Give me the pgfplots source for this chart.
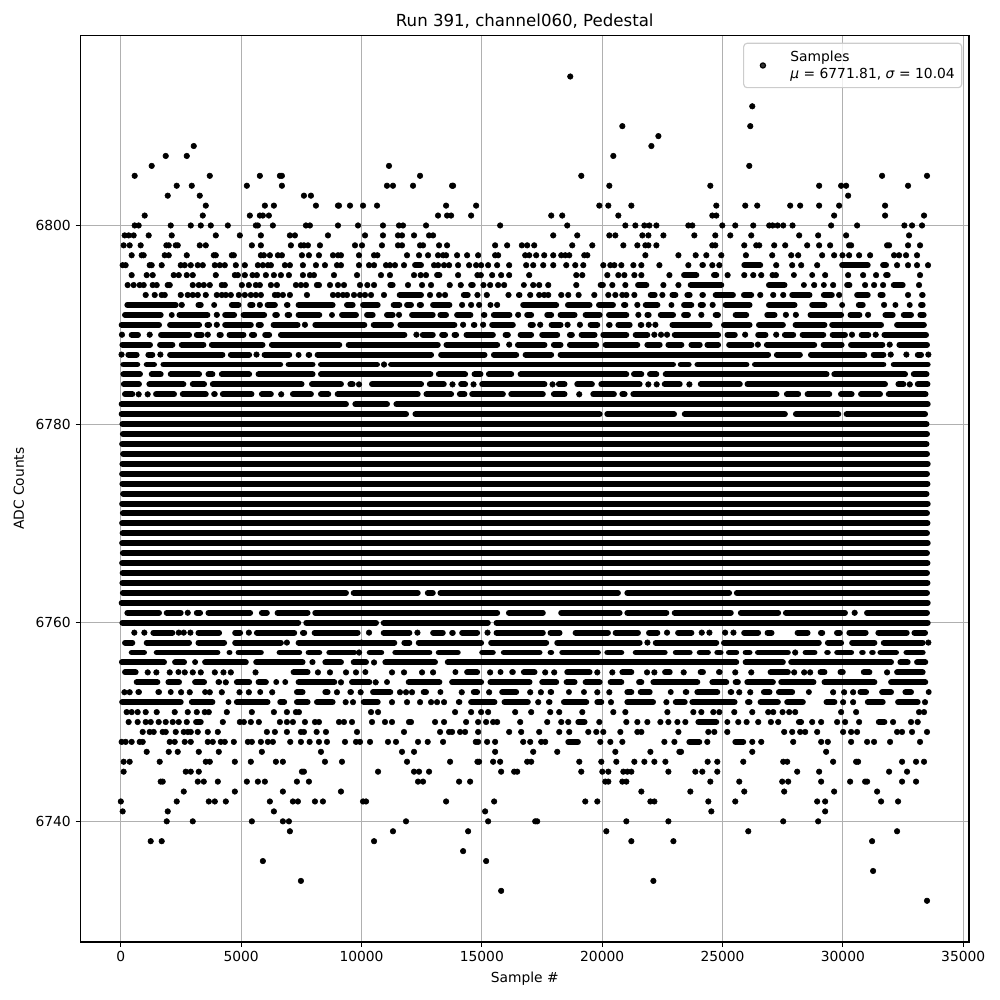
\documentclass[border=0pt]{standalone}
\usepackage{fontspec}
\setmainfont{DejaVu Sans}
\usepackage{pgfplots}
\usepackage{pgfplotstable}
\pgfplotsset{compat=1.18}

% runs of overlapping samples, one row per run: first sample, last sample, ADC value
\pgfplotstableread[row sep=\\]{
a b c\\
12099 12598 6796\\24036 24312 6796\\25778 26691 6796\\29844 31158 6796\\31545 31919 6796\\
13014 13361 6795\\23275 24036 6795\\24520 24865 6795\\27839 27977 6795\\28600 28807 6795\\31670 31988 6795\\
11072 11419 6794\\14429 14748 6794\\16620 16787 6794\\19810 20157 6794\\21364 21960 6794\\23552 25073 6794\\26802 27700 6794\\28254 28461 6794\\29083 29332 6794\\30052 30397 6794\\31988 32610 6794\\
11461 12598 6793\\14124 14540 6793\\16413 16690 6793\\21891 22307 6793\\22793 23167 6793\\23413 23759 6793\\24036 24312 6793\\24589 25557 6793\\25764 26317 6793\\27770 28738 6793\\29083 29664 6793\\30467 31158 6793\\31435 31780 6793\\33164 33440 6793\\
146 2407 6792\\3100 3447 6792\\3752 3974 6792\\4487 5014 6792\\5250 5597 6792\\5971 6526 6792\\6776 7053 6792\\7261 8925 6792\\9272 9758 6792\\9938 10798 6792\\11211 11697 6792\\11766 12182 6792\\12293 12598 6792\\12848 13777 6792\\15233 15483 6792\\16593 18215 6792\\18451 19602 6792\\19741 20573 6792\\20781 21087 6792\\21683 22418 6792\\22751 23000 6792\\23275 23828 6792\\23966 24312 6792\\25004 26248 6792\\26802 28116 6792\\28600 29360 6792\\29844 30052 6792\\30536 30951 6792\\32057 32265 6792\\32652 32887 6792\\33122 33440 6792\\
49 1783 6791\\1991 2198 6791\\2310 3724 6791\\4210 4834 6791\\4973 6082 6791\\6290 6609 6791\\6804 7122 6791\\7261 8371 6791\\8648 8856 6791\\9065 9896 6791\\10105 10590 6791\\10934 11419 6791\\11974 13084 6791\\13153 13638 6791\\13846 14651 6791\\14956 15233 6791\\15372 16274 6791\\16759 17175 6791\\17591 18007 6791\\18146 18978 6791\\19186 20018 6791\\20157 21128 6791\\21752 22057 6791\\22307 23070 6791\\23275 23690 6791\\24589 24935 6791\\25419 26110 6791\\26733 27286 6791\\28530 30052 6791\\30190 30812 6791\\31642 32195 6791\\32403 32956 6791\\33094 33482 6791\\
-90 1713 6790\\1921 3378 6790\\3475 3794 6790\\4210 5527 6790\\5597 5944 6790\\6221 7469 6790\\7955 10243 6790\\10382 11350 6790\\11488 13985 6790\\14540 14817 6790\\15303 16413 6790\\16898 17245 6790\\17772 18396 6790\\19394 19921 6790\\20157 20435 6790\\20546 21267 6790\\21475 21752 6790\\22793 24589 6790\\24935 26248 6790\\26387 27632 6790\\27908 29360 6790\\29429 31711 6790\\32126 33490 6790\\
326 839 6789\\1546 2961 6789\\3031 3488 6789\\3974 4279 6789\\4390 5222 6789\\5319 5666 6789\\5874 6290 6789\\6526 11907 6789\\12420 13086 6789\\13225 13599 6789\\13738 14057 6789\\14237 15583 6789\\15860 16207 6789\\16485 17174 6789\\17382 18256 6789\\18533 18866 6789\\19018 19809 6789\\19920 21127 6789\\21265 22000 6789\\22888 24941 6789\\25080 25634 6789\\26356 26910 6789\\27465 28062 6789\\28200 29310 6789\\29449 30212 6789\\30655 31182 6789\\31600 33580 6789\\
-60 1338 6788\\1505 2268 6788\\2406 3558 6788\\3655 6013 6788\\6151 9202 6788\\9341 13294 6788\\13405 15763 6788\\16373 17728 6788\\17867 18394 6788\\18533 19878 6788\\20017 21584 6788\\21751 22514 6788\\22625 23415 6788\\23582 24178 6788\\24247 24941 6788\\25149 26328 6788\\26716 28935 6788\\29074 30073 6788\\30212 31765 6788\\32222 33620 6788\\
187 783 6787\\1019 1435 6787\\1921 4348 6787\\4445 5458 6787\\5846 7122 6787\\7261 7469 6787\\7677 7954 6787\\8051 13017 6787\\13183 15236 6787\\15375 16554 6787\\16692 18006 6787\\18145 27021 6787\\27132 28339 6787\\28547 31016 6787\\31155 31807 6787\\32986 33374 6787\\
-20 811 6786\\950 1505 6786\\1644 6748 6786\\6845 8093 6786\\8190 10770 6786\\11103 23068 6786\\23138 23720 6786\\23831 26120 6786\\26220 31807 6786\\31987 33650 6786\\
-20 922 6785\\1158 1782 6785\\1949 3377 6785\\3516 3932 6785\\4070 5458 6785\\5596 8093 6785\\8190 12989 6785\\13086 14432 6785\\14570 15069 6785\\15167 16346 6785\\16485 21127 6785\\21196 21751 6785\\21862 22375 6785\\22514 29448 6785\\29518 32708 6785\\32819 33600 6785\\
0 880 6784\\1061 2725 6784\\2864 3585 6784\\3696 7635 6784\\7816 9272 6784\\9411 9757 6784\\10312 12601 6784\\12712 13544 6784\\14015 14432 6784\\14889 17728 6784\\18075 18561 6784\\18838 19698 6784\\19837 21681 6784\\22472 23346 6784\\23970 25842 6784\\25912 31876 6784\\32181 32639 6784\\32986 33640 6784\\
48 603 6783\\1338 2337 6783\\2448 3655 6783\\3752 4029 6783\\4112 5555 6783\\5735 6359 6783\\7025 8024 6783\\8190 8745 6783\\8884 12462 6783\\12573 13849 6783\\13960 14404 6783\\14473 16000 6783\\16096 17659 6783\\17867 18561 6783\\19503 20613 6783\\20710 21057 6783\\21168 27368 6783\\27548 28269 6783\\28408 29560 6783\\29795 30489 6783\\30628 31668 6783\\31779 33560 6783\\
-90 9480 6782\\9619 11186 6782\\11324 33650 6782\\
-90 11977 6781\\12115 20017 6781\\20086 23110 6781\\23304 27715 6781\\27923 29934 6781\\30031 33540 6781\\
-60 33600 6780\\-40 33620 6779\\-70 33600 6778\\-30 33620 6777\\-60 33650 6776\\-70 33620 6775\\-60 33640 6774\\-30 33600 6773\\-70 33650 6772\\-40 33620 6771\\-70 33640 6770\\-50 33620 6769\\-70 33650 6768\\-40 33620 6767\\-70 33640 6766\\-50 33620 6765\\-60 33640 6764\\
-40 9480 6763\\9550 12462 6763\\12628 13086 6763\\13155 20780 6763\\20919 25399 6763\\25468 33620 6763\\
-90 33650 6762\\
146 1713 6761\\1782 2614 6761\\3031 3419 6761\\3516 5499 6761\\5735 6193 6761\\6387 7885 6761\\7954 15763 6761\\15999 17659 6761\\18172 20849 6761\\20919 22791 6761\\22888 25468 6761\\25634 27437 6761\\27507 30212 6761\\30877 33620 6761\\
-60 7497 6760\\7580 10728 6760\\10797 15374 6760\\15485 33650 6760\\
1227 2268 6759\\3100 4209 6759\\4625 5083 6759\\5527 7330 6759\\7441 7746 6759\\7927 9965 6759\\10797 12115 6759\\12850 13502 6759\\13641 13918 6759\\14057 14931 6759\\15485 17659 6759\\17728 18353 6759\\18769 20364 6759\\20433 21612 6759\\21820 22417 6759\\23027 23831 6759\\25773 26605 6759\\26744 27160 6759\\27992 28658 6759\\28963 29268 6759\\29629 29998 6759\\30142 31071 6759\\31348 32778 6759\\32847 33540 6759\\
49 603 6758\\950 2961 6758\\3100 4418 6758\\4626 6776 6758\\7261 11488 6758\\11655 12113 6758\\12251 15095 6758\\15261 17799 6758\\18007 21683 6758\\22099 24865 6758\\24934 29125 6758\\29250 30052 6758\\30259 31435 6758\\31573 33440 6758\\
326 1089 6757\\1366 4140 6757\\4390 4626 6757\\4765 5944 6757\\6470 7538 6757\\7677 8371 6757\\8537 9827 6757\\10215 10945 6757\\11280 12945 6757\\13083 14124 6757\\14887 15580 6757\\15788 17522 6757\\17730 18007 6757\\18215 19949 6757\\20088 20920 6757\\21267 22723 6757\\22931 23759 6757\\23925 24520 6757\\24658 25045 6757\\25142 25695 6757\\25834 26248 6757\\26345 27839 6757\\28323 28946 6757\\29222 29499 6757\\29637 30467 6757\\30674 30951 6757\\31089 31366 6757\\31435 32334 6757\\32514 33440 6757\\
-80 1921 6756\\2129 2753 6756\\2961 3170 6756\\3377 5319 6756\\5500 7677 6756\\7830 8093 6756\\8371 9272 6756\\9550 10313 6756\\10864 13180 6756\\13458 25695 6756\\25834 27631 6756\\27728 32126 6756\\32264 32818 6756\\32956 33548 6756\\
49 742 6755\\2268 2476 6755\\7053 7885 6755\\10035 10243 6755\\13777 13985 6755\\14263 14928 6755\\15650 15788 6755\\16135 16413 6755\\16620 17314 6755\\18423 19602 6755\\20712 21336 6755\\22487 22931 6755\\23966 24312 6755\\24727 25004 6755\\26871 27839 6755\\28946 29360 6755\\29775 30121 6755\\30743 31227 6755\\32126 33440 6755\\
534 1644 6754\\1852 2545 6754\\2961 3585 6754\\3932 4210 6754\\4695 5458 6754\\5597 6152 6754\\6332 6498 6754\\6706 6942 6754\\7261 8995 6754\\9480 10451 6754\\10934 11142 6754\\11835 13361 6754\\13638 15095 6754\\15233 17106 6754\\17383 18215 6754\\18396 18978 6754\\19186 20018 6754\\20226 20920 6754\\21406 21752 6754\\22002 24077 6754\\24451 25280 6754\\25419 25764 6754\\25903 27217 6754\\27313 28904 6754\\29111 31435 6754\\31877 33548 6754\\
603 881 6753\\1435 1713 6753\\1949 2198 6753\\3377 3516 6753\\5666 5916 6753\\7192 7677 6753\\8371 8717 6753\\9411 9689 6753\\10354 11322 6753\\12459 12806 6753\\13153 13361 6753\\14540 14928 6753\\15719 16551 6753\\17730 18007 6753\\18493 18701 6753\\19117 19367 6753\\20920 21336 6753\\21475 22099 6753\\22723 22973 6753\\23344 23621 6753\\23828 24907 6753\\25211 25488 6753\\26594 27078 6753\\27217 28019 6753\\28461 28710 6753\\30605 31089 6753\\31504 32126 6753\\32472 32956 6753\\33440 33620 6753\\
-70 2615 6752\\2823 3932 6752\\4348 4487 6752\\4695 6221 6752\\6498 6914 6752\\7192 7885 6752\\8024 8925 6752\\9965 10800 6752\\13916 14193 6752\\14429 15650 6752\\15816 17036 6752\\17660 17938 6752\\18285 19464 6752\\19672 20088 6752\\20920 22238 6752\\22931 23555 6752\\23621 25626 6752\\25930 26248 6752\\26456 27424 6752\\27562 28461 6752\\29194 29775 6752\\30909 31780 6752\\32168 33233 6752\\
3000 3447 6750\\18881 19394 6750\\23870 24865 6750\\25073 25322 6750\\28046 28392 6750\\31366 31850 6750\\
18465 19117 6748\\23496 24160 6748\\25405 25986 6748\\
}\segs

\begin{document}
\begin{tikzpicture}
\path[use as bounding box] (-58.18pt,-41.92pt) rectangle (664.52pt,680.78pt);
\begin{axis}[
  at={(0,0)},
  anchor=south west,
  scale only axis,
  width=642.12pt,
  height=655.27pt,
  xmin=-1675, xmax=35240,
  ymin=6727.85, ymax=6819.15,
  xtick={0,5000,...,35000},
  ytick={6740,6760,6780,6800},
  scaled x ticks=false,
  scaled y ticks=false,
  grid=major,
  grid style={color=black!31, line width=0.8pt},
  axis line style={line width=0.8pt},
  tick align=outside,
  tick pos=left,
  major tick length=3.5pt,
  tick style={black, line width=0.8pt},
  tick label style={font=\fontsize{10}{12}\selectfont},
  label style={font=\fontsize{10}{12}\selectfont},
  /pgf/number format/assume math mode=true,
  /pgf/number format/1000 sep={},
  xlabel={Sample \#},
  ylabel={ADC Counts},
  ylabel style={yshift=1.5pt},
  title={Run 391, channel060, Pedestal},
  title style={font=\fontsize{12}{14}\selectfont, yshift=-4.6pt},
  legend image code/.code={\path (0,0) (28pt,0); \fill[black] (10.5pt,0) circle (1.9pt);},
  legend style={at={(0.9924,0.9918)}, anchor=north east, draw=black!20, line width=0.8pt, rounded corners=2.5pt, fill=white, fill opacity=0.8, text opacity=1, inner ysep=3.5pt, font=\fontsize{10}{12}\selectfont, cells={align=left}},
]
\addplot[forget plot, draw=none, mark=none, error bars/.cd, x dir=plus, x explicit, error mark=none, error bar style={line width=4.3pt, line cap=round, black}]
  table[x expr=\thisrow{a}+125, y=c, x error plus expr={max(\thisrow{b}-\thisrow{a}-250,1)}] {\segs};
\addplot[only marks, mark=*, mark size=2pt, black] coordinates {
(18673,6815)(26235,6812)(20837,6810)(26152,6810)(22335,6809)(3030,6808)(22044,6808)
(1866,6807)(2740,6807)(20462,6807)(1283,6806)(11142,6806)(26110,6806)
(576,6805)(3696,6805)(5777,6805)(6610,6805)(6693,6805)(12432,6805)(19131,6805)(31628,6805)(33495,6805)
(2323,6804)(2948,6804)(5236,6804)(6693,6804)(11058,6804)(11308,6804)(12140,6804)(13763,6804)(13805,6804)(20296,6804)(24492,6804)(29014,6804)(29927,6804)(30135,6804)(32707,6804)
(1949,6803)(3280,6803)(7608,6803)(7899,6803)(30218,6803)
(3530,6802)(5985,6802)(6360,6802)(8107,6802)(9023,6802)(9064,6802)(9522,6802)(10063,6802)(10645,6802)(13514,6802)(14762,6802)(19880,6802)(20254,6802)(21211,6802)(24741,6802)(25944,6802)(26442,6802)(27811,6802)(28226,6802)(29014,6802)(29844,6802)(31753,6802)
(992,6801)(3405,6801)(5361,6801)(5777,6801)(5902,6801)(6152,6801)(13180,6801)(13555,6801)(13722,6801)(14554,6801)(17883,6801)(18340,6801)(20670,6801)(24575,6801)(24741,6801)(29637,6801)(31753,6801)(33371,6801)
(576,6800)(742,6800)(2074,6800)(2906,6800)(3322,6800)(3738,6800)(4446,6800)(5610,6800)(5694,6800)(6318,6800)(7691,6800)(7857,6800)(9023,6800)(9855,6800)(10892,6800)(11558,6800)(11724,6800)(12681,6800)(15760,6800)(18548,6800)(20962,6800)(21378,6800)(21752,6800)(21960,6800)(22252,6800)(23579,6800)(23745,6800)(24990,6800)(25529,6800)(26276,6800)(26940,6800)(27078,6800)(27286,6800)(27521,6800)(27908,6800)(29512,6800)(30591,6800)(32555,6800)(32873,6800)(33288,6800)
(160,6799)(326,6799)(534,6799)(1158,6799)(2115,6799)(3946,6799)(4945,6799)(5819,6799)(7025,6799)(7233,6799)(8607,6799)(10146,6799)(10892,6799)(11516,6799)(11683,6799)(12182,6799)(12806,6799)(12973,6799)(17966,6799)(18964,6799)(20296,6799)(20546,6799)(21669,6799)(21919,6799)(22543,6799)(23828,6799)(24699,6799)(25322,6799)(26193,6799)(28185,6799)(28973,6799)(30135,6799)(32749,6799)
(118,6798)(368,6798)(825,6798)(1893,6798)(1991,6798)(2282,6798)(2365,6798)(3280,6798)(3530,6798)(5444,6798)(5819,6798)(7067,6798)(7483,6798)(7608,6798)(7775,6798)(8274,6798)(9730,6798)(10021,6798)(10850,6798)(11516,6798)(11683,6798)(12432,6798)(12556,6798)(13222,6798)(13555,6798)(15552,6798)(16052,6798)(16662,6798)(16884,6798)(17176,6798)(18756,6798)(19589,6798)(20878,6798)(21461,6798)(21794,6798)(21919,6798)(22252,6798)(24575,6798)(24699,6798)(25903,6798)(26401,6798)(26525,6798)(27147,6798)(27604,6798)(28517,6798)(29014,6798)(29471,6798)(30259,6798)(30342,6798)(31836,6798)(31919,6798)(32707,6798)(33205,6798)
(451,6797)(867,6797)(950,6797)(1824,6797)(1991,6797)(2740,6797)(3863,6797)(3946,6797)(4612,6797)(4695,6797)(5819,6797)(5944,6797)(6193,6797)(6526,6797)(6693,6797)(7525,6797)(7816,6797)(8232,6797)(8815,6797)(9023,6797)(9147,6797)(9896,6797)(10520,6797)(10660,6797)(11891,6797)(12390,6797)(12765,6797)(13180,6797)(13389,6797)(13514,6797)(13971,6797)(14387,6797)(14845,6797)(15552,6797)(15677,6797)(16801,6797)(16967,6797)(17258,6797)(17591,6797)(17966,6797)(18299,6797)(18465,6797)(18631,6797)(19256,6797)(19381,6797)(21794,6797)(23167,6797)(23884,6797)(24326,6797)(24948,6797)(25972,6797)(27064,6797)(27853,6797)(28143,6797)(29139,6797)(29637,6797)(29983,6797)(30259,6797)(30674,6797)(31131,6797)(32126,6797)(32334,6797)(32624,6797)(33080,6797)
(77,6796)(201,6796)(1200,6796)(1283,6796)(1699,6796)(2490,6796)(2656,6796)(2906,6796)(3197,6796)(3405,6796)(3905,6796)(4113,6796)(4320,6796)(4778,6796)(5153,6796)(5694,6796)(5902,6796)(6110,6796)(6235,6796)(6817,6796)(7025,6796)(7566,6796)(8107,6796)(8482,6796)(8981,6796)(9147,6796)(9896,6796)(10313,6796)(10521,6796)(11017,6796)(11183,6796)(11391,6796)(11766,6796)(13014,6796)(13180,6796)(13430,6796)(13638,6796)(14013,6796)(14471,6796)(14762,6796)(14970,6796)(15261,6796)(15636,6796)(16135,6796)(16842,6796)(17134,6796)(17550,6796)(17966,6796)(18507,6796)(18881,6796)(19214,6796)(20046,6796)(20338,6796)(20504,6796)(20795,6796)(21295,6796)(21627,6796)(22377,6796)(23579,6796)(24575,6796)(24865,6796)(27230,6796)(27894,6796)(28268,6796)(28932,6796)(32251,6796)(32707,6796)(33080,6796)(33537,6796)
(451,6795)(1075,6795)(1325,6795)(2199,6795)(2407,6795)(2740,6795)(2990,6795)(3946,6795)(4737,6795)(4861,6795)(5153,6795)(5472,6795)(5652,6795)(6027,6795)(6360,6795)(6651,6795)(6984,6795)(7566,6795)(7857,6795)(8024,6795)(8856,6795)(9813,6795)(10809,6795)(11183,6795)(12182,6795)(12459,6795)(12681,6795)(14013,6795)(14817,6795)(14956,6795)(15428,6795)(15802,6795)(16135,6795)(16967,6795)(18923,6795)(19173,6795)(20213,6795)(20670,6795)(20920,6795)(21336,6795)(21627,6795)(22793,6795)(25211,6795)(25903,6795)(26276,6795)(26608,6795)(27078,6795)(27217,6795)(29264,6795)(30218,6795)(30840,6795)(31379,6795)(33205,6795)
(284,6794)(534,6794)(784,6794)(950,6794)(1325,6794)(1491,6794)(1949,6794)(2032,6794)(2989,6794)(3239,6794)(3447,6794)(3696,6794)(4196,6794)(4320,6794)(5028,6794)(5319,6794)(5610,6794)(5777,6794)(6235,6794)(6485,6794)(7275,6794)(7483,6794)(7691,6794)(8149,6794)(8232,6794)(8690,6794)(9023,6794)(9272,6794)(9938,6794)(10243,6794)(10521,6794)(11932,6794)(12515,6794)(12889,6794)(13666,6794)(14124,6794)(15067,6794)(15344,6794)(15677,6794)(15927,6794)(17134,6794)(17383,6794)(17758,6794)(18923,6794)(20421,6794)(20962,6794)(22543,6794)(23167,6794)(28807,6794)(29595,6794)(30923,6794)(31296,6794)(31670,6794)(33164,6794)
(1034,6793)(1408,6793)(1699,6793)(1824,6793)(2490,6793)(2781,6793)(2989,6793)(3197,6793)(3530,6793)(3988,6793)(4196,6793)(4362,6793)(4570,6793)(4903,6793)(5153,6793)(5402,6793)(5610,6793)(5819,6793)(6401,6793)(6526,6793)(6734,6793)(7025,6793)(7733,6793)(8815,6793)(9023,6793)(9231,6793)(9397,6793)(9689,6793)(9938,6793)(10146,6793)(10396,6793)(10934,6793)(12847,6793)(13222,6793)(13472,6793)(14817,6793)(15206,6793)(16107,6793)(17009,6793)(17383,6793)(17591,6793)(17758,6793)(18299,6793)(18590,6793)(19020,6793)(19672,6793)(20254,6793)(20546,6793)(20837,6793)(21003,6793)(21336,6793)(22501,6793)(26567,6793)(27106,6793)(27521,6793)(29844,6793)(32707,6793)
(2532,6792)(5777,6792)(14179,6792)(14554,6792)(14887,6792)(15636,6792)(21461,6792)(24589,6792)(31711,6792)
(3988,6791)(11558,6791)(16509,6791)(21503,6791)(24119,6791)(27632,6791)(28046,6791)(31047,6791)
(3988,6790)(7650,6790)(14221,6790)(15053,6790)(17425,6790)(18562,6790)(19075,6790)(21932,6790)(22210,6790)
(48,6789)(1200,6789)(3613,6789)(12282,6789)(22167,6789)(22444,6789)(22694,6789)(25940,6789)(27230,6789)(30378,6789)(31363,6789)
(16137,6788)(26467,6788)(31945,6788)
(30,6787)(1644,6787)(5638,6787)(31987,6787)(32639,6787)(33550,6787)
(10936,6786)(9896,6784)(13780,6784)(14654,6784)(17937,6784)(21917,6784)(22264,6784)(23623,6784)(32778,6784)
(742,6783)(1116,6783)(6664,6783)(19046,6783)
(2781,6761)(30489,6761)
(562,6759)(978,6759)(2406,6759)(2614,6759)(2892,6759)(5319,6759)(10312,6759)(12324,6759)(15236,6759)(22694,6759)(24136,6759)(24455,6759)(25107,6759)(25454,6759)
(6900,6758)(10000,6758)(21880,6758)(33550,6758)
(9900,6757)(28019,6757)(10521,6756)
(1117,6755)(1477,6755)(2032,6755)(2656,6755)(2989,6755)(3322,6755)(3905,6755)(4265,6755)(4570,6755)(5597,6755)(8190,6755)(8690,6755)(9356,6755)(9771,6755)(11267,6755)(11766,6755)(12515,6755)(12973,6755)(15344,6755)(17633,6755)(18007,6755)(19797,6755)(20421,6755)(21863,6755)(22168,6755)(23386,6755)(25529,6755)(26193,6755)(27977,6755)(28392,6755)(28641,6755)(31836,6755)
(4362,6754)(9147,6754)(10590,6754)
(150,6753)(368,6753)(2504,6753)(2864,6753)(3696,6753)(4196,6753)(4931,6753)(5319,6753)(6290,6753)(8981,6753)(9965,6753)(11599,6753)(11850,6753)(12099,6753)(14165,6753)(15303,6753)(17009,6753)(17453,6753)(19797,6753)(20296,6753)(25695,6753)(26152,6753)(29595,6753)(30052,6753)(30425,6753)
(9342,6752)(9647,6752)(11267,6752)(11891,6752)(12432,6752)(12889,6752)(13139,6752)(13430,6752)(17342,6752)(20365,6752)(22668,6752)(30010,6752)(30425,6752)(33412,6752)
(243,6751)(451,6751)(700,6751)(1034,6751)(1491,6751)(2240,6751)(2781,6751)(3156,6751)(3488,6751)(3655,6751)(4404,6751)(5444,6751)(6360,6751)(6900,6751)(7275,6751)(7400,6751)(10396,6751)(10687,6751)(13888,6751)(14554,6751)(14970,6751)(15261,6751)(16385,6751)(17050,6751)(17841,6751)(18215,6751)(19173,6751)(20462,6751)(20962,6751)(22709,6751)(23787,6751)(24119,6751)(24616,6751)(24865,6751)(25488,6751)(26235,6751)(26898,6751)(27106,6751)(27493,6751)(27770,6751)(28019,6751)(29927,6751)(30550,6751)(33164,6751)(33371,6751)
(326,6750)(700,6750)(1034,6750)(1242,6750)(1574,6750)(1866,6750)(2157,6750)(2407,6750)(2740,6750)(4238,6750)(4945,6750)(5111,6750)(5402,6750)(5735,6750)(6609,6750)(6900,6750)(7150,6750)(7650,6750)(8066,6750)(8232,6750)(9065,6750)(9272,6750)(9605,6750)(10437,6750)(10975,6750)(11267,6750)(11974,6750)(12057,6750)(13056,6750)(13430,6750)(14346,6750)(14845,6750)(15178,6750)(15469,6750)(15636,6750)(16593,6750)(17716,6750)(18299,6750)(18590,6750)(19880,6750)(21003,6750)(21461,6750)(21877,6750)(22418,6750)(22751,6750)(23125,6750)(23455,6750)(25654,6750)(26000,6750)(26483,6750)(27009,6750)(27313,6750)(28724,6750)(29097,6750)(29761,6750)(30093,6750)(30674,6750)(32085,6750)(32831,6750)(33108,6750)
(909,6749)(1200,6749)(1366,6749)(1741,6749)(1866,6749)(2282,6749)(2615,6749)(2781,6749)(2906,6749)(3197,6749)(3613,6749)(4030,6749)(6068,6749)(6401,6749)(6900,6749)(7483,6749)(7608,6749)(8135,6749)(8523,6749)(9813,6749)(11766,6749)(13264,6749)(13638,6749)(13763,6749)(14096,6749)(14304,6749)(14845,6749)(16135,6749)(16634,6749)(17383,6749)(18215,6749)(18631,6749)(19422,6749)(19755,6749)(20046,6749)(20754,6749)(21461,6749)(21627,6749)(23167,6749)(24409,6749)(24658,6749)(25197,6749)(27562,6749)(27894,6749)(28226,6749)(28434,6749)(28932,6749)(30010,6749)(30342,6749)(30591,6749)(32251,6749)(32458,6749)(32873,6749)(33495,6749)
(35,6748)(201,6748)(451,6748)(784,6748)(909,6748)(2032,6748)(2240,6748)(2656,6748)(2906,6748)(3613,6748)(3821,6748)(4154,6748)(4320,6748)(4695,6748)(5278,6748)(5444,6748)(5819,6748)(6110,6748)(6318,6748)(7039,6748)(7483,6748)(7844,6748)(8232,6748)(8565,6748)(9314,6748)(9771,6748)(9938,6748)(10354,6748)(11100,6748)(11433,6748)(12348,6748)(12751,6748)(13389,6748)(14748,6748)(14845,6748)(15219,6748)(15552,6748)(16718,6748)(17009,6748)(17466,6748)(17633,6748)(19921,6748)(20338,6748)(20837,6748)(22584,6748)(23000,6748)(24367,6748)(26235,6748)(26608,6748)(27936,6748)(29097,6748)(29374,6748)(30342,6748)(31006,6748)(31296,6748)(31960,6748)(33205,6748)
(1075,6747)(1991,6747)(2365,6747)(3239,6747)(4071,6747)(5860,6747)(8316,6747)(11683,6747)(12182,6747)(15552,6747)(17134,6747)(18132,6747)(20546,6747)(22002,6747)(23208,6747)(23275,6747)(26235,6747)(29305,6747)
(118,6746)(368,6746)(1616,6746)(3530,6746)(3697,6746)(4737,6746)(5402,6746)(6443,6746)(6734,6746)(8482,6746)(9189,6746)(11891,6746)(13680,6746)(14817,6746)(14887,6746)(15469,6746)(15760,6746)(16884,6746)(17050,6746)(19048,6746)(19963,6746)(20587,6746)(21336,6746)(21752,6746)(22168,6746)(22626,6746)(24381,6746)(24782,6746)(25861,6746)(27521,6746)(27687,6746)(29595,6746)(30550,6746)(30633,6746)(32458,6746)(33039,6746)(33371,6746)
(118,6745)(2698,6745)(2906,6745)(3239,6745)(7525,6745)(7608,6745)(10687,6745)(12182,6745)(12390,6745)(12806,6745)(15802,6745)(16343,6745)(16468,6745)(19131,6745)(20005,6745)(20254,6745)(20878,6745)(21045,6745)(21211,6745)(22751,6745)(23870,6745)(24160,6745)(24782,6745)(28102,6745)(29014,6745)(31919,6745)(32666,6745)
(1657,6744)(1741,6744)(3197,6744)(3447,6744)(4030,6744)(5236,6744)(5694,6744)(5985,6744)(7317,6744)(7816,6744)(12348,6744)(12556,6744)(14054,6744)(14512,6744)(20130,6744)(20254,6744)(20837,6744)(21003,6744)(24492,6744)(25695,6744)(27479,6744)(27728,6744)(29097,6744)(30300,6744)(30923,6744)(31006,6744)(32458,6744)(33039,6744)
(2615,6743)(4737,6743)(6734,6743)(9147,6743)(21627,6743)(23662,6743)(25903,6743)(27562,6743)(29637,6743)(31421,6743)
(0,6742)(2323,6742)(3655,6742)(3905,6742)(4362,6742)(6193,6742)(7150,6742)(7358,6742)(8066,6742)(8398,6742)(10063,6742)(10188,6742)(13514,6742)(15511,6742)(19297,6742)(19797,6742)(22002,6742)(22168,6742)(24409,6742)(25529,6742)(28932,6742)(29264,6742)(31587,6742)(32292,6742)
(77,6741)(1949,6741)(6360,6741)(15136,6741)(24534,6741)(29264,6741)
(1907,6740)(2989,6740)(5444,6740)(6734,6740)(6984,6740)(11849,6740)(15261,6740)(17217,6740)(17300,6740)(21003,6740)(22751,6740)(27521,6740)(28973,6740)
(7025,6739)(11308,6739)(14429,6739)(20171,6739)(26069,6739)(32251,6739)
(1242,6738)(1699,6738)(10521,6738)(21211,6738)(22959,6738)(31214,6738)
(14221,6737)(5902,6736)(15178,6736)(31255,6735)(7483,6734)(22127,6734)(15802,6733)(33495,6732)
};
\addlegendentry{Samples\\\textit{μ} = 6771.81, \textit{σ} = 10.04}
\end{axis}
\end{tikzpicture}
\end{document}
